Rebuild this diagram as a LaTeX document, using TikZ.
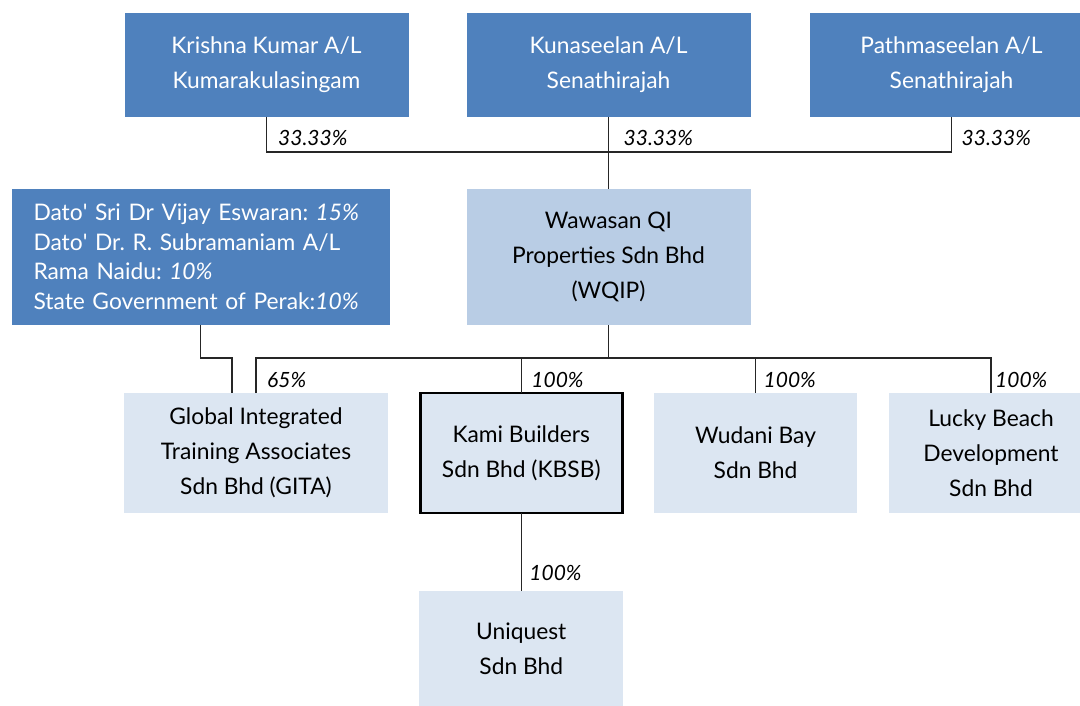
\documentclass[tikz,border=0pt]{standalone}
\usepackage{fontspec}
\setmainfont{Lato}
\usetikzlibrary{positioning}

\definecolor{ownerblue}{HTML}{4F81BD}
\definecolor{parentblue}{HTML}{B9CDE5}
\definecolor{subblue}{HTML}{DCE6F2}
\newcommand{\tick}{\textquotesingle}
\frenchspacing

\begin{document}
\begin{tikzpicture}[
    x=1pt, y=1pt,
    owner/.style={
        rectangle,
        fill=ownerblue,
        text=white,
        align=center,
        inner sep=0pt,
        outer sep=0pt,
        minimum width=284pt,
        minimum height=104pt,
        font=\fontsize{22.8}{35}\selectfont
    },
    parent/.style={
        owner,
        fill=parentblue,
        text=black,
        minimum height=136pt
    },
    sub/.style={
        owner,
        fill=subblue,
        text=black,
        minimum height=120pt
    },
    pct/.style={
        inner sep=0pt,
        anchor=base west,
        font=\fontsize{21}{24}\selectfont\itshape
    },
    link/.style={draw=black!85, line width=1.3pt}
]
\useasboundingbox (0,0) rectangle (1080,-706);

% shareholders
\node[owner] (krishna) at (266.5,-65) {Krishna Kumar A/L\\Kumarakulasingam};
\node[owner, right=58pt of krishna] (kuna) {Kunaseelan A/L\\Senathirajah};
\node[owner, right=59pt of kuna] (pathma) {Pathmaseelan A/L\\Senathirajah};

% parent
\node[parent, below=72pt of kuna] (wawasan) {Wawasan QI\\Properties Sdn Bhd\\(WQIP)};
\node[owner, left=77pt of wawasan, minimum height=136pt, text width=334pt,
      align=left, inner xsep=22pt, font=\fontsize{22.8}{29.5}\selectfont] (dato)
    {Dato\tick{} Sri Dr Vijay Eswaran: \textit{15\%}\\
     Dato\tick{} Dr. R. Subramaniam A/L\\
     Rama Naidu: \textit{10\%}\\
     State Government of Perak:\textit{10\%}};

% subsidiaries
\node[sub, minimum width=264pt] (gita) at (256,-453) {Global Integrated\\Training Associates\\Sdn Bhd (GITA)};
\node[sub, right=32.25pt of gita, minimum width=202pt, draw=black, line width=2.5pt] (kbsb) {Kami Builders\\Sdn Bhd (KBSB)};
\node[sub, right=31.75pt of kbsb, minimum width=203pt] (wudani) {Wudani Bay\\Sdn Bhd};
\node[sub, right=32pt of wudani, minimum width=204pt] (lucky) {Lucky Beach\\Development\\Sdn Bhd};
\node[sub, below=78pt of kbsb, minimum width=204pt, minimum height=115pt] (uniquest) {Uniquest\\Sdn Bhd};

\coordinate (topbar) at (0,-152);
\coordinate (midbar) at (0,-358);

% connectors
\draw[link] (krishna.south) |- (pathma.south |- topbar) -- (pathma.south);
\draw[link] (kuna.south) -- (wawasan.north);
\draw[link] (wawasan.south) -- (wawasan.south |- midbar);
\draw[link] (gita.north) |- (lucky.north |- midbar) -- (lucky.north);
\draw[link] (kbsb.north) -- (kbsb.north |- midbar);
\draw[link] (wudani.north) -- (wudani.north |- midbar);
\draw[link] (dato.south) |- ([xshift=-24pt]gita.north |- midbar) -- ([xshift=-24pt]gita.north);
\draw[link] (kbsb.south) -- (uniquest.north);

% percentages
\node[pct] (pkrishna) at ([shift={(11.5,-29)}]krishna.south) {33.33\%};
\node[pct] (pkuna) at ([shift={(15,-29)}]kuna.south) {33.33\%};
\node[pct] (ppathma) at ([shift={(10,-29)}]pathma.south) {33.33\%};
\node[pct] (pgita) at ([shift={(11,6)}]gita.north) {65\%};
\node[pct] (pkbsb) at ([shift={(10,6)}]kbsb.north) {100\%};
\node[pct] (pwudani) at ([shift={(8,6)}]wudani.north) {100\%};
\node[pct] (plucky) at ([shift={(4,6)}]lucky.north) {100\%};
\node[pct] (puniquest) at ([shift={(8,11)}]uniquest.north) {100\%};

\end{tikzpicture}
\end{document}
